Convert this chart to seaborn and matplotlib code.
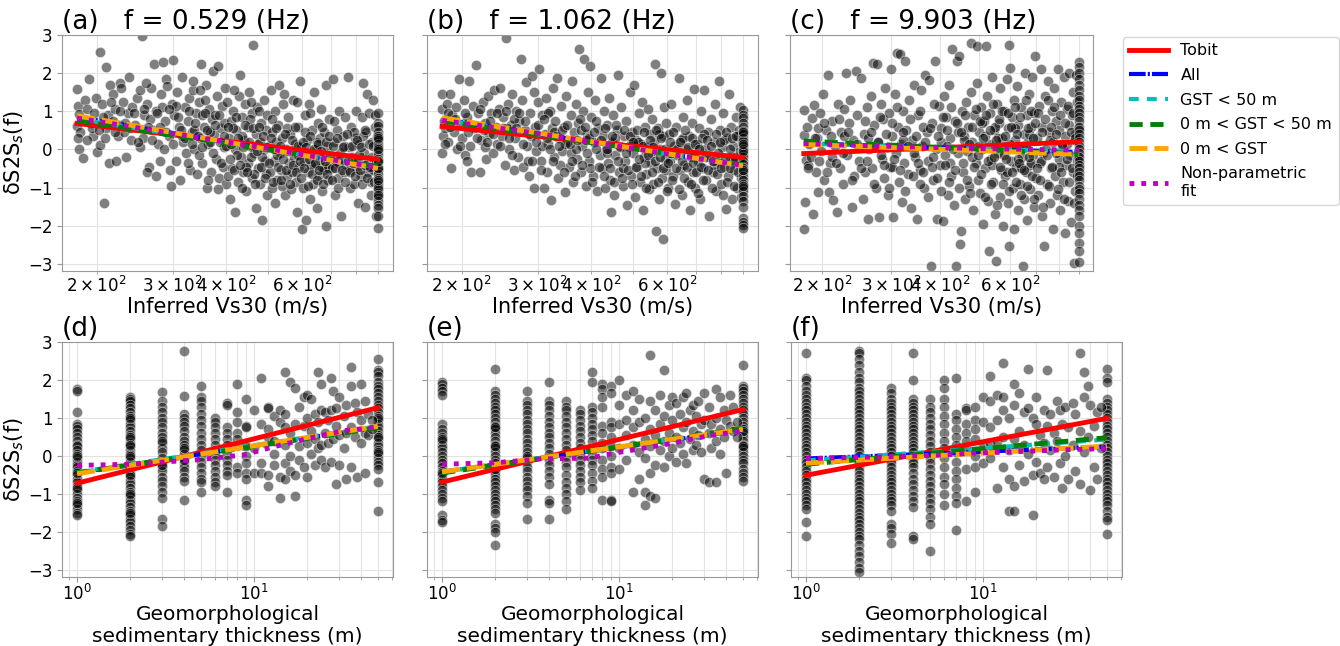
import matplotlib
matplotlib.use("Agg")
import matplotlib.pyplot as plt
import seaborn as sns
import pandas as pd

# ---------------- data ----------------
vs30_ends = [180, 900]
gst_ends = [1, 50]

pts_a = [(180,1.58),(181,1.15),(182,0.92),(180,0.62),(183,0.45),(181,0.3),(182,0.0),(186,-0.22),(188,1.3),(192,1.85),(190,1.05),(194,0.7),(196,0.35),(195,0.55),(199,1.35),
(203,2.55),(210,2.15),(208,-1.4),(200,-0.08),(204,0.12),(206,1.2),(212,0.9),(215,1.7),(218,1.45),(210,0.55),(220,1.05),(224,0.35),(214,-0.35),(222,-0.3),(226,1.75),(230,1.25),(232,0.45),(236,0.95),(238,1.9),(240,0.25),(228,1.6),(218,0.75),(234,-0.2),(242,1.1),(207,0.85),(225,0.65),
(245,0.65),(248,1.35),(252,1.55),(255,2.98),(256,0.3),(258,0.9),(262,1.2),(265,-0.45),(262,-0.6),(268,1.6),(270,0.5),(272,2.25),(275,1.0),(278,0.15),(280,-0.3),(282,1.45),(285,2.3),(288,0.75),(290,1.85),(292,1.65),(295,0.35),(296,-0.55),(298,-0.95),(300,2.35),(252,0.05),(260,1.75),(266,0.8),(284,1.1),(274,-0.7),(287,0.0),(299,1.2),
(303,0.9),(305,-0.3),(308,1.5),(310,0.6),(312,-0.8),(315,1.9),(318,0.2),(320,1.1),(322,-0.1),(325,0.75),(328,1.35),(330,-0.55),(332,0.45),(335,1.55),(337,0.0),(340,0.95),(342,-0.65),(345,1.25),(347,0.3),(350,2.25),(352,-0.35),(355,0.6),(358,1.7),(360,-1.0),(362,0.15),(365,1.05),(368,-0.6),(370,0.8),(372,2.05),(375,0.4),(378,-0.25),(380,1.4),(382,2.2),(385,-0.75),(388,0.55),(390,1.15),(392,-0.45),(395,0.05),(398,1.6),(400,-0.9),(306,1.15),(316,0.35),(326,-0.35),(336,0.5),(346,-0.15),(356,1.3),(366,0.45),(376,0.9),(386,0.2),(396,0.7),(334,1.8),(348,1.55),(363,-0.8),(383,-1.05),(352,0.9),
(402,1.25),(405,0.3),(408,-1.3),(410,0.75),(412,-0.5),(415,1.0),(418,0.0),(420,-1.65),(422,0.5),(425,-0.85),(428,1.4),(430,1.95),(432,-0.2),(435,0.85),(438,-0.6),(440,0.25),(442,1.2),(445,-1.1),(448,0.6),(450,-0.35),(452,1.5),(455,0.1),(458,-0.75),(460,0.95),(462,2.75),(465,-0.1),(468,0.4),(470,-1.55),(472,1.1),(475,-0.5),(478,0.2),(480,-0.9),(482,0.7),(485,-1.85),(488,0.0),(490,1.3),(492,-0.3),(495,0.5),(498,-1.2),(404,-0.7),(414,0.55),(424,-0.15),(434,0.35),(444,-0.45),(454,0.8),(464,-0.65),(474,0.15),(484,-0.2),(494,-0.65),(416,1.55),(436,-1.0),(456,1.25),(476,1.0),(496,0.9),
(502,0.1),(505,-0.6),(508,1.55),(510,-1.0),(512,0.45),(515,-0.3),(518,1.0),(520,-1.4),(522,0.2),(525,-0.8),(528,0.65),(530,1.7),(533,-0.1),(536,-0.55),(540,0.3),(543,1.2),(546,-1.2),(550,0.0),(553,-0.7),(556,0.85),(560,-0.35),(563,0.4),(566,-1.05),(570,1.3),(573,-0.2),(576,0.15),(580,-0.85),(583,-1.65),(586,0.6),(590,-0.45),(593,1.8),(596,0.05),(600,-2.1),(603,-1.0),(606,-0.3),(610,0.9),(613,-1.85),(616,0.25),(620,-0.6),(623,1.2),(626,-1.3),(630,-0.1),(633,0.5),(636,-0.9),(640,1.5),(643,-0.4),(646,0.0),(650,-1.55),(653,0.7),(656,-0.7),(660,0.3),(663,1.05),(666,-1.1),(670,-0.25),(673,0.45),(676,-0.55),(680,1.7),(683,-2.0),(686,0.1),(690,-0.8),(693,0.8),(696,-0.35),(511,0.8),(524,-0.15),(538,-0.95),(552,0.55),(568,-0.6),(588,-0.15),(608,0.45),(628,-0.4),(648,0.2),(668,-0.45),(688,-0.5),(545,1.45),(585,1.25),(625,0.95),
(702,-0.5),(706,1.85),(710,0.2),(714,-1.2),(718,-0.3),(722,0.5),(726,-0.75),(730,1.0),(735,-0.1),(740,-1.75),(745,0.35),(750,-0.6),(755,0.85),(760,-0.4),(765,1.9),(770,0.05),(775,-1.0),(780,0.6),(785,-0.2),(790,-0.9),(795,0.3),(800,1.0),(805,-0.5),(810,-1.4),(815,0.15),(820,-0.7),(825,0.85),(830,1.75),(835,-0.1),(840,-1.5),(845,0.45),(850,1.45),(855,-0.3),(860,0.95),(865,-0.85),(870,0.2),(875,1.3),(880,-0.55),(885,0.6),(890,-1.75),(712,0.75),(732,-0.35),(752,0.1),(772,-0.55),(792,0.45),(812,-0.15),(832,0.35),(852,-0.6),(872,-0.2),(888,0.9)]
core_a = [(185,0.8),(190,0.25),(197,0.95),(202,0.5),(209,0.3),(216,1.25),(221,0.45),(227,1.0),(233,0.7),(239,0.55),(244,0.95),(250,0.2),(257,1.05),(263,0.6),(269,0.25),(276,0.95),(281,0.6),(289,0.45),(294,1.05),(301,0.15),(309,0.85),(314,0.5),(321,0.3),(327,1.0),(333,0.15),(339,0.7),(344,0.35),(351,0.05),(357,0.95),(361,0.5),(367,0.2),(373,-0.1),(377,0.65),(384,0.9),(389,-0.35),(394,0.35),(399,0.1),(403,0.6),(407,-0.25),(411,0.15),(417,-0.55),(421,0.85),(426,0.3),(431,-0.4),(437,0.05),(441,0.65),(446,-0.6),(451,0.2),(457,-0.2),(461,0.55),(466,-0.9),(471,-0.05),(477,0.6),(481,-0.45),(487,0.35),(491,-0.75),(497,0.05),(503,-0.35),(507,0.3),(513,-0.85),(517,0.0),(523,0.55),(527,-0.45),(532,0.1),(537,-0.8),(542,-0.25),(547,0.4),(551,-0.55),(557,-0.05),(562,-0.9),(567,0.25),(572,-0.4),(578,0.6),(582,-0.6),(587,0.1),(592,-0.3),(597,-0.75),(602,0.2),(607,-0.5),(612,0.05),(618,-0.95),(622,-0.25),(627,0.35),(632,-0.65),(638,0.0),(642,-0.35),(648,-0.8),(652,0.15),(658,-0.55),(662,-0.05),(667,0.6),(672,-0.9),(678,-0.3),(682,0.2),(687,-0.65),(692,0.35),(698,-0.15),(704,-0.8),(708,0.1),(716,-0.5),(724,0.3),(728,-1.0),(736,-0.25),(744,-0.55),(748,0.05),(756,-0.85),(762,0.4),(768,-0.3),(776,-0.6),(782,0.1),(788,-0.35),(797,-0.7),(803,0.25),(808,-0.3),(818,-0.55),(822,0.05),(828,-0.9),(838,-0.4),(842,0.5),(848,-0.75),(858,0.15),(862,-0.45),(868,-1.2),(878,0.1),(883,-0.85),(893,-0.3),(896,0.35)]
stack_a = [0.95,0.7,0.62,0.45,0.36,0.24,0.15,0.05,-0.04,-0.16,-0.25,-0.34,-0.46,-0.55,-0.64,-0.76,-0.85,-0.94,-1.06,-1.15,-1.24,-1.36,-1.45,-1.55,-1.76,-2.05,-0.5,-0.3,0.3,-1.0,-0.8,-1.2,0.0]

pts_b = [(180,1.45),(180,1.05),(181,0.35),(180,-0.1),(182,0.75),(183,0.55),(185,1.2),(186,0.2),(188,1.45),(189,-0.5),(190,0.9),(192,0.45),(194,1.1),(195,0.0),(197,1.85),(199,0.65),(200,0.3),(202,1.3),(204,-0.15),(206,0.85),(208,1.8),(209,0.1),(210,-0.6),(212,1.15),(214,0.55),(216,2.22),(218,0.95),(220,-0.6),(222,0.25),(224,1.25),(226,0.7),(228,-0.25),(230,1.4),(232,0.4),(234,0.95),(236,-0.1),(238,1.55),(240,0.6),(242,0.15),(244,1.05),(206,-0.3),(226,0.05),(186,0.95),
(246,1.6),(248,0.35),(250,0.85),(252,-0.4),(254,2.93),(256,1.2),(258,0.0),(260,0.65),(262,1.45),(264,-0.55),(266,0.3),(268,1.0),(270,-0.2),(272,0.75),(274,2.38),(276,1.3),(278,-0.45),(280,0.5),(282,1.77),(284,0.1),(286,-0.7),(288,0.95),(290,0.35),(292,1.92),(294,-1.02),(296,0.6),(298,-0.05),(300,1.25),(255,0.55),(265,0.8),(285,-0.3),(295,1.5),
(303,2.1),(305,-0.3),(307,0.9),(310,-1.0),(312,0.4),(314,1.35),(316,-0.6),(318,0.15),(320,1.0),(322,-1.32),(324,0.55),(326,1.6),(328,-0.2),(330,0.75),(333,1.88),(335,-0.75),(337,0.3),(340,1.15),(342,-0.05),(345,0.6),(348,-1.12),(350,1.4),(352,0.2),(355,-0.45),(358,0.9),(360,1.79),(362,-0.85),(365,0.45),(368,1.2),(370,-0.25),(372,0.7),(375,2.63),(378,-0.6),(380,0.1),(382,1.0),(385,2.36),(388,-0.95),(390,0.4),(392,1.5),(395,-0.3),(398,2.18),(400,0.85),(403,-0.7),(406,0.2),(409,1.3),(412,-1.1),(415,0.55),(418,-0.15),(308,0.1),(318,0.95),(328,0.45),(338,-0.4),(348,0.15),(358,-0.1),(368,0.0),(378,0.5),(388,0.25),(398,-0.5),(410,0.75),
(422,1.88),(424,-0.5),(426,0.35),(428,1.0),(430,-1.0),(432,0.0),(435,0.65),(438,-0.35),(440,1.35),(443,-0.8),(446,0.2),(449,0.9),(452,-1.2),(455,-0.15),(458,0.5),(461,1.96),(464,-0.6),(467,0.1),(470,1.1),(473,-0.95),(476,0.35),(479,-0.3),(482,0.75),(485,-1.45),(488,0.05),(491,1.5),(494,-0.7),(497,0.45),(500,-0.1),(503,1.7),(506,-1.25),(509,0.25),(512,-0.45),(515,0.95),(518,-0.85),(521,0.15),(524,1.25),(527,-1.6),(530,-0.2),(533,0.6),(536,-0.65),(539,0.05),(542,1.05),(545,-1.05),(548,0.4),(551,-0.35),(554,0.8),(557,-0.9),(560,0.2),(563,2.23),(565,-2.13),(568,-0.5),(571,0.55),(574,-1.3),(577,0.0),(580,2.0),(583,-0.75),(586,0.35),(588,-2.36),(591,1.1),(594,-0.25),(597,0.7),(434,-0.1),(454,0.3),(474,-0.5),(494,0.15),(514,0.2),(534,-0.35),(554,-0.1),(574,0.4),(596,-0.55),(445,-1.65),
(602,-1.0),(606,0.4),(610,-0.3),(614,1.2),(618,-0.7),(622,0.1),(626,-1.43),(630,0.6),(634,-0.15),(638,1.86),(642,-0.55),(646,0.25),(650,-1.2),(654,0.85),(658,-0.4),(662,0.0),(666,1.3),(670,-0.85),(674,0.35),(678,-1.59),(682,-0.2),(686,0.7),(690,-0.6),(694,1.59),(698,-1.0),(702,0.15),(706,-0.3),(710,0.55),(715,-1.3),(720,1.0),(725,-0.5),(730,1.55),(735,0.0),(740,-0.8),(745,0.45),(750,-1.74),(755,-0.15),(760,0.8),(765,-0.6),(770,0.2),(775,1.2),(780,-1.1),(785,-0.3),(790,1.79),(795,0.5),(800,-0.9),(805,0.05),(810,0.95),(815,-0.45),(820,-1.56),(825,0.3),(830,-0.7),(835,1.45),(840,-0.2),(845,0.6),(850,-1.3),(855,0.1),(860,-0.55),(865,0.85),(870,-1.0),(875,0.35),(880,-0.25),(885,1.1),(890,-0.75),(612,-0.1),(652,0.3),(692,-0.15),(732,0.4),(772,-0.4),(812,0.25),(852,-0.2),(882,0.5)]
core_b = [(183,0.15),(188,0.6),(193,0.8),(198,0.1),(203,0.95),(207,0.45),(211,0.65),(217,0.3),(221,1.05),(225,0.5),(229,0.2),(233,0.75),(237,0.4),(241,0.95),(245,0.1),(249,0.55),(253,1.0),(257,0.3),(261,-0.15),(267,0.55),(271,0.95),(277,0.15),(281,0.75),(287,0.4),(291,-0.3),(297,0.2),(301,0.65),(306,-0.55),(311,0.8),(315,0.3),(321,0.0),(325,-0.3),(331,0.35),(336,0.1),(341,0.5),(346,-0.6),(351,0.65),(356,0.15),(361,-0.3),(366,-0.7),(371,0.25),(376,0.8),(381,-0.4),(386,0.6),(391,-0.1),(396,0.3),(401,-0.85),(405,0.45),(411,0.0),(416,-0.45),(421,0.25),(427,-0.7),(431,0.55),(436,0.0),(441,-0.5),(447,0.35),(451,-0.85),(456,0.65),(461,-0.3),(466,0.05),(471,-0.75),(477,0.5),(481,-0.1),(486,-0.55),(492,0.35),(496,-0.9),(501,0.2),(507,-0.45),(511,0.5),(516,-0.25),(522,-0.7),(526,0.1),(531,0.45),(537,-1.0),(541,-0.15),(547,0.25),(552,-0.6),(556,0.05),(561,-0.3),(566,0.5),(572,-0.85),(576,-0.2),(581,0.3),(587,-0.5),(592,0.0),(598,-1.1),(604,-0.35),(608,0.2),(616,-0.8),(620,0.45),(628,-0.5),(632,0.0),(640,-1.05),(644,0.2),(648,-0.3),(656,-0.75),(660,0.5),(668,-0.45),(672,0.05),(680,-0.9),(684,0.3),(688,-0.35),(696,0.15),(700,-0.6),(708,-1.15),(712,0.0),(718,-0.45),(722,0.3),(728,-0.8),(738,-0.2),(742,0.25),(748,-0.55),(758,0.1),(762,-1.0),(768,-0.3),(778,0.4),(782,-0.65),(788,-0.1),(798,0.2),(802,-0.5),(808,-1.2),(818,-0.25),(822,0.45),(828,-0.85),(838,0.0),(842,-0.5),(848,0.3),(858,-0.95),(862,-0.2),(868,0.35),(878,-0.6),(884,-0.05),(892,-1.25),(896,0.2)]
stack_b = [1.04,0.9,0.81,0.7,0.6,0.49,0.4,0.3,0.21,0.1,0.0,-0.11,-0.2,-0.3,-0.39,-0.5,-0.6,-0.71,-0.8,-0.9,-1.0,-1.1,-1.21,-1.35,-1.5,-1.8,-1.9,-1.98,-2.05,0.45,-0.05,-0.55,-0.95,0.15]

pts_c = [(180,1.04),(180,0.38),(181,-1.38),(180,-2.09),(182,-0.28),(183,0.6),(184,-0.41),(186,0.15),(188,-0.19),(189,0.82),(190,-1.69),(191,1.17),(193,-0.6),(194,0.3),(196,-1.12),(198,0.95),(199,-0.05),(201,1.44),(203,-0.8),(205,0.5),(207,1.96),(208,-1.12),(210,-0.35),(212,0.75),(214,-1.34),(216,0.1),(218,-1.65),(220,1.2),(222,-0.5),(224,0.45),(226,-0.9),(228,1.05),(230,2.0),(232,-0.15),(234,0.7),(236,1.3),(238,-1.52),(240,0.25),(242,-0.7),(244,2.05),(246,0.9),(248,-0.3),(196,0.55),(212,-0.2),(228,0.35),
(252,1.88),(254,-1.3),(256,0.4),(258,-0.6),(260,1.1),(262,-1.82),(264,0.0),(266,1.39),(268,-0.5),(270,2.27),(272,0.65),(274,-1.0),(276,2.23),(278,0.2),(280,-1.78),(282,1.2),(284,-0.25),(286,0.8),(288,-0.75),(290,1.6),(292,0.05),(294,-1.2),(296,0.95),(298,-0.45),(300,2.1),(302,0.35),(304,-1.78),(306,1.45),(308,-0.1),(310,2.54),(312,0.6),(314,-0.85),(316,2.49),(318,0.15),(320,-1.38),(322,1.0),(324,-0.35),(326,2.32),(328,0.5),(330,-0.65),(333,1.3),(336,-1.55),(339,0.25),(342,1.7),(345,-0.2),(348,-1.82),(351,0.9),(354,-0.55),(357,1.55),(360,0.1),(363,-1.0),(366,1.96),(369,0.45),(372,-0.3),(375,1.83),(378,-3.06),(381,0.7),(384,-0.8),(387,2.32),(390,0.0),(393,-1.82),(396,1.15),(399,-0.4),(402,0.55),(405,-1.87),(408,1.4),(411,-0.15),(414,0.85),(417,-1.2),(420,1.7),(423,0.3),(426,-0.7),(429,2.63),(432,-1.45),(435,0.75),(437,-3.06),(440,2.32),(443,-0.1),(446,2.45),(449,-2.48),(451,-2.13),(262,0.3),(282,-0.15),(302,-0.45),(322,0.25),(342,-0.1),(362,0.6),(382,-0.2),(402,0.2),(422,-0.35),(442,0.45),(355,-0.9),(415,0.1),
(453,1.0),(456,-0.6),(459,0.35),(462,-1.3),(465,1.25),(468,-0.05),(471,0.6),(474,-0.95),(477,1.5),(479,2.8),(482,0.2),(485,-1.6),(488,0.9),(491,-0.35),(494,1.75),(496,2.71),(499,-0.8),(502,0.45),(505,-1.15),(508,1.1),(511,0.0),(514,-1.95),(517,0.75),(520,-0.5),(522,2.71),(525,1.4),(528,-1.35),(530,0.15),(532,-2.66),(535,0.95),(538,-0.25),(541,1.9),(544,-0.85),(547,0.5),(550,-1.7),(553,-2.93),(556,1.2),(559,-0.1),(562,0.7),(565,-1.25),(568,1.6),(571,-0.55),(574,0.3),(577,-2.0),(580,1.0),(583,-0.7),(586,0.1),(589,1.85),(592,-1.4),(595,0.55),(598,2.73),(598,-2.53),(601,2.14),(604,-0.3),(607,0.85),(610,-1.0),(613,1.3),(616,-2.1),(619,0.25),(622,-0.45),(625,1.65),(628,-1.6),(631,0.65),(634,0.0),(637,-0.9),(640,1.1),(643,-0.2),(647,-3.07),(650,0.4),(653,-1.3),(656,2.0),(659,-0.6),(662,0.9),(665,-1.85),(668,0.2),(671,1.45),(674,-0.4),(677,-1.05),(680,0.6),(683,1.9),(686,-0.15),(689,-1.5),(692,0.95),(695,2.45),(698,-0.75),(460,0.25),(480,-0.2),(500,0.1),(520,0.35),(540,-0.4),(560,0.3),(580,-0.15),(600,0.15),(620,0.55),(640,-0.5),(660,0.05),(680,-0.35),(510,0.7),(550,0.6),(590,-0.6),(630,-0.25),(670,0.4),
(702,0.3),(706,-1.2),(710,1.15),(714,-0.35),(718,2.1),(722,0.6),(726,-1.75),(730,-0.1),(734,-2.53),(738,1.4),(742,0.0),(746,-0.9),(750,1.8),(754,0.45),(758,-1.4),(762,-0.5),(766,1.0),(770,-2.1),(774,0.2),(778,1.6),(782,-0.7),(786,0.75),(790,-1.2),(794,2.1),(798,-0.25),(802,0.5),(806,-1.6),(810,1.25),(814,0.1),(818,-0.85),(822,1.9),(826,-2.2),(830,0.35),(834,-0.4),(838,1.05),(842,-1.35),(846,0.65),(850,2.0),(854,-0.15),(858,-1.9),(862,0.9),(866,-0.6),(870,1.5),(872,-2.97),(876,0.25),(880,-1.1),(884,1.95),(888,-0.3),(892,0.55),(720,-0.3),(760,0.25),(800,-0.45),(840,0.15),(880,0.4)]
core_c = [(185,-0.5),(192,0.3),(197,-0.3),(202,0.7),(206,-0.6),(211,0.35),(217,-0.35),(221,0.8),(227,-0.1),(233,0.45),(239,-0.8),(245,0.15),(251,-0.5),(257,0.75),(261,-0.3),(267,0.45),(271,-0.9),(277,0.2),(281,0.85),(287,-0.4),(291,0.4),(297,-1.0),(301,0.7),(305,-0.25),(311,1.1),(315,-0.55),(321,0.45),(325,-1.1),(331,0.1),(335,0.8),(341,-0.7),(346,0.35),(350,-0.35),(356,1.0),(361,-0.6),(365,0.2),(371,-1.25),(376,0.55),(380,-0.45),(386,1.2),(391,-0.75),(395,0.35),(401,-1.1),(406,0.85),(410,-0.4),(416,0.5),(421,-0.85),(425,1.1),(431,0.0),(436,-0.55),(441,0.7),(446,-1.0),(452,0.45),(457,-0.35),(461,0.9),(467,-0.8),(472,0.15),(476,-1.15),(481,0.6),(487,-0.45),(492,1.05),(497,-0.15),(503,0.75),(507,-0.65),(513,0.3),(518,-1.25),(523,0.9),(527,-0.3),(533,0.5),(537,-0.9),(543,1.2),(548,-0.2),(552,0.25),(557,-1.45),(563,0.8),(567,-0.45),(572,1.0),(576,-0.9),(582,0.35),(587,-0.25),(593,0.95),(597,-1.1),(603,0.6),(608,-0.6),(612,0.05),(618,1.1),(623,-0.85),(627,0.4),(633,-0.35),(638,0.85),(642,-1.2),(648,0.1),(652,-0.55),(658,1.3),(663,-0.95),(667,0.55),(673,-0.2),(678,1.0),(682,-0.7),(688,0.3),(693,-1.3),(697,0.7),(704,-0.5),(708,0.95),(716,-0.8),(724,0.45),(728,-1.5),(736,0.8),(744,-0.15),(748,1.3),(756,-0.95),(764,0.6),(768,-0.45),(776,1.1),(784,-0.1),(788,0.4),(796,-1.05),(804,0.9),(808,-0.6),(816,0.15),(824,-1.3),(828,0.7),(836,-0.25),(844,1.15),(848,-0.85),(856,0.45),(864,-0.5),(868,0.95),(874,-1.4),(878,0.3),(886,-0.7),(890,1.25),(896,-0.2)]
stack_c = [2.3,2.15,2.0,1.85,1.7,1.55,1.4,1.3,1.15,1.05,0.95,0.85,0.75,0.6,0.5,0.4,0.3,0.2,0.1,0.0,-0.1,-0.2,-0.3,-0.4,-0.5,-0.6,-0.7,-0.8,-0.95,-1.05,-1.15,-1.3,-1.45,-1.6,-1.75,-2.0,-2.2,-2.45,-2.66,-2.95]

cols_d = {
 1: [1.75,1.72,1.15,0.85,0.8,0.7,0.6,0.5,0.4,0.3,0.25,0.15,0.05,-0.05,-0.15,-0.25,-0.3,-0.4,-0.5,-0.6,-0.7,-0.8,-0.9,-1.0,-1.1,-1.2,-1.3,-1.4,-1.5,-1.57,-0.45,0.0,-0.85,-1.25],
 2: [1.55,1.5,1.45,1.35,1.25,1.15,1.05,0.95,0.85,0.75,0.65,0.55,0.45,0.35,0.25,0.15,0.05,-0.05,-0.15,-0.25,-0.35,-0.45,-0.55,-0.65,-0.75,-0.85,-0.95,-1.05,-1.15,-1.25,-1.35,-1.45,-1.55,-1.65,-1.75,-1.85,-1.95,-2.05,-2.12,0.0,-0.5,-1.0,0.5,1.0,-1.5,-0.3,0.3],
 3: [1.67,1.45,1.3,1.15,1.0,0.9,0.75,0.6,0.5,0.35,0.2,0.1,-0.05,-0.15,-0.3,-0.4,-0.55,-0.65,-0.8,-0.95,-1.1,-1.65,-1.85,0.4,-0.25],
 4: [2.75,1.57,1.1,1.0,0.9,0.8,0.65,0.5,0.4,0.3,0.15,0.05,-0.05,-0.2,-0.3,-0.4,-0.55,-0.65,-1.15,0.2,-0.1],
 5: [1.85,1.55,1.45,1.3,1.1,0.95,0.8,0.6,0.45,0.3,0.15,0.0,-0.15,-0.3,-0.45,-0.6,-0.7,-0.95],
 6: [1.0,0.9,0.75,0.6,0.45,0.3,0.15,0.05,-0.1,-0.25,-0.4,-0.55,-0.7,-0.8],
 7: [1.4,1.35,0.75,0.6,0.45,0.3,0.2,0.05,-0.1,-0.25,-0.4,-0.5,-0.95],
 8: [1.9,1.15,0.9,0.6,0.45,0.3,-0.3,-0.45],
 9: [1.5,0.8,0.75,0.25,0.0,-0.2,-0.45,-0.6,-1.15,-1.3],
 50: [2.55,2.25,2.2,2.1,1.95,1.85,1.75,1.65,1.55,1.45,1.35,1.25,1.15,1.05,0.95,0.85,0.75,0.65,0.55,0.45,0.35,0.25,0.15,0.05,-0.05,-0.15,-0.25,-0.35,-0.7,-1.45,1.0,0.5,0.1],
}
scatter_d = [(10,1.2),(10,0.2),(10,-0.45),(11,2.05),(11,0.85),(11,-0.2),(11,-0.45),(12,1.3),(12,1.25),(12,0.7),(12,0.5),(12,-0.5),(12,-0.8),(13,0.4),(13,0.05),(13,-0.25),(13,1.05),(14,1.2),(14,0.9),(14,-0.55),(14,-1.1),(15,2.2),(15,1.1),(15,0.75),(15,0.3),(15,-0.2),(15,-0.6),(16,1.95),(16,0.6),(16,0.0),(16,-0.4),(17,1.8),(17,0.85),(17,-0.5),(17,-1.05),(18,1.3),(18,0.25),(18,-0.1),(19,1.55),(19,0.8),(19,-0.3),(20,1.6),(20,1.0),(20,0.35),(20,-0.55),(21,1.5),(21,0.65),(21,0.05),(22,1.1),(22,0.45),(22,-0.25),(23,2.2),(23,0.9),(23,0.2),(24,1.9),(24,1.2),(24,0.3),(24,-0.1),(25,1.15),(25,0.6),(25,-0.3),(26,0.95),(26,0.35),(27,2.05),(27,1.2),(27,-0.15),(28,1.7),(28,0.45),(29,1.25),(29,0.8),(29,-0.75),(30,1.55),(30,0.55),(30,-0.25),(32,1.05),(32,0.2),(33,1.35),(33,0.6),(33,-0.6),(35,2.35),(35,1.85),(35,0.75),(35,-0.3),(37,1.4),(37,0.5),(38,1.15),(38,-0.55),(40,1.9),(40,0.95),(40,0.35),(42,1.45),(42,0.6),(42,-0.45),(44,1.1),(44,0.55),(46,0.95),(46,0.7)]

cols_e = {
 1: [1.95,1.9,1.8,1.7,1.6,0.85,0.7,0.6,0.5,0.4,0.3,0.2,0.1,0.0,-0.1,-0.2,-0.3,-0.4,-0.5,-0.6,-0.7,-0.8,-0.9,-1.0,-1.1,-1.2,-1.55,-1.7,-1.75,0.45,-0.45],
 2: [2.3,1.7,1.6,1.5,1.4,1.3,1.2,1.1,1.0,0.9,0.8,0.7,0.6,0.5,0.4,0.3,0.2,0.1,0.0,-0.1,-0.2,-0.3,-0.4,-0.5,-0.6,-0.7,-0.8,-0.9,-1.0,-1.1,-1.2,-1.3,-1.4,-1.5,-1.8,-1.9,-2.0,-2.35,0.25,-0.35,0.75],
 3: [1.7,1.45,1.35,1.2,1.1,0.95,0.85,0.7,0.6,0.45,0.35,0.2,0.1,-0.05,-0.15,-0.3,-0.4,-0.55,-0.65,-0.8,-0.9,-1.05,-1.25,-1.65,0.0],
 4: [1.95,1.45,1.35,1.2,1.05,0.9,0.75,0.6,0.5,0.35,0.2,0.05,-0.1,-0.25,-0.4,-0.55,-0.75,-1.15,-1.25,-1.65],
 5: [1.45,1.3,1.2,1.05,0.9,0.75,0.6,0.45,0.3,0.15,0.0,-0.15,-0.3,-0.5,-0.7,-0.85,-1.0,-1.2,-1.4],
 6: [1.2,1.1,0.95,0.8,0.65,0.5,0.35,0.2,0.05,-0.1,-0.25,-0.4,-0.55,-0.7,-0.9],
 7: [2.2,1.95,1.3,1.15,1.0,0.85,0.7,0.55,0.4,0.2,0.05,-0.1,-0.25,-0.45,-0.65,-0.85],
 8: [1.9,1.75,1.55,1.3,0.8,0.6,0.35,0.2,-0.1,-0.35,-0.55,-1.15],
 9: [1.85,1.65,0.9,0.75,0.5,0.25,0.0,-0.3,-0.45,-1.15,-1.2],
 50: [2.4,1.85,1.8,1.7,1.6,1.5,1.4,1.3,1.2,1.1,1.0,0.9,0.8,0.7,0.6,0.5,0.4,0.3,0.2,0.1,0.0,-0.1,-0.2,-0.35,-0.45,-0.55,-0.65,0.65,0.25],
}
scatter_e = [(10,2.0),(10,1.35),(10,0.85),(10,0.2),(10,-0.35),(11,1.6),(11,0.95),(11,0.55),(11,-0.1),(12,1.7),(12,1.2),(12,0.75),(12,0.3),(12,-0.95),(13,1.5),(13,0.9),(13,0.1),(13,-0.6),(14,1.0),(14,0.45),(14,-0.05),(14,-0.95),(14,-1.3),(15,2.65),(15,1.45),(15,0.7),(15,0.25),(15,-0.45),(15,-1.05),(16,1.2),(16,0.55),(16,-0.25),(16,-1.1),(17,1.6),(17,0.85),(17,0.15),(18,2.25),(18,1.05),(18,0.4),(18,-0.3),(19,1.35),(19,0.6),(19,0.0),(20,1.55),(20,0.95),(20,0.2),(21,1.4),(21,0.5),(21,-0.15),(22,1.1),(22,0.35),(23,1.55),(23,0.75),(23,0.05),(24,1.65),(24,0.9),(24,-0.2),(25,1.2),(25,0.45),(26,1.35),(26,0.65),(26,0.15),(27,1.05),(27,0.3),(28,1.45),(28,0.55),(29,0.85),(29,0.1),(30,1.65),(30,0.95),(30,-0.6),(32,1.3),(32,0.6),(32,-0.7),(33,0.85),(33,0.2),(35,1.75),(35,1.0),(35,0.4),(35,-0.7),(37,1.55),(37,0.7),(37,0.05),(39,1.2),(39,0.5),(40,0.95),(40,-0.45),(42,1.6),(42,0.8),(44,0.65),(44,1.3),(46,0.9),(46,0.5)]

cols_f = {
 1: [2.7,2.05,2.0,1.85,1.7,1.6,1.5,1.4,1.3,1.2,1.1,1.0,0.9,0.8,0.7,0.6,0.5,0.4,0.3,0.2,0.1,0.0,-0.1,-0.2,-0.3,-0.4,-0.5,-0.6,-0.7,-0.8,-0.9,-1.0,-1.1,-1.2,-1.3,-1.4,-1.75,-2.1],
 2: [2.75,2.7,2.55,2.4,2.2,2.05,1.95,1.8,1.7,1.6,1.5,1.4,1.3,1.2,1.1,1.0,0.9,0.8,0.7,0.6,0.5,0.4,0.3,0.2,0.1,0.0,-0.1,-0.2,-0.3,-0.4,-0.5,-0.6,-0.7,-0.8,-0.9,-1.0,-1.1,-1.2,-1.3,-1.4,-1.5,-1.6,-1.7,-1.8,-1.9,-2.0,-2.1,-2.2,-2.35,-2.5,-2.65,-2.8,-2.95,-3.05],
 3: [1.8,1.65,1.5,1.4,1.3,1.2,1.1,1.0,0.9,0.8,0.7,0.6,0.5,0.4,0.3,0.2,0.1,0.0,-0.1,-0.2,-0.3,-0.4,-0.5,-0.6,-0.7,-0.8,-0.9,-1.0,-1.1,-1.2,-1.3,-1.45,-1.8,-1.9,-2.05,-2.3],
 4: [2.7,2.0,1.5,1.4,1.3,1.2,1.1,1.0,0.9,0.8,0.7,0.6,0.5,0.4,0.3,0.2,0.1,0.0,-0.1,-0.2,-0.3,-0.45,-0.6,-0.75,-0.9,-1.05,-1.2,-1.35,-2.1,-2.2],
 5: [1.5,1.3,1.15,1.0,0.85,0.7,0.55,0.4,0.25,0.1,-0.05,-0.2,-0.35,-0.5,-0.65,-0.8,-0.95,-1.1,-1.25,-1.4,-1.6,-1.8,-2.5],
 6: [2.0,1.8,1.5,1.3,1.05,0.85,0.6,0.4,0.2,-0.05,-0.3,-0.55,-0.75,-1.0,-1.3],
 7: [2.05,1.1,0.95,0.7,0.5,0.3,0.1,-0.15,-0.4,-0.6,-0.85,-1.05,-1.25,-1.95],
 8: [1.25,1.2,0.85,0.6,0.4,0.15,-0.35,-1.2],
 9: [1.3,0.95,0.7,0.45,0.0,-0.3,-0.95],
 50: [2.3,2.05,1.95,1.5,1.4,1.3,1.2,1.1,1.0,0.9,0.8,0.7,0.6,0.5,0.4,0.3,0.2,0.1,0.0,-0.1,-0.2,-0.3,-0.4,-0.5,-0.6,-0.7,-0.8,-0.9,-1.0,-1.1,-1.2,-1.3,-1.45,-1.6,-1.7,-2.05],
}
scatter_f = [(10,1.55),(10,0.9),(10,0.25),(10,-0.2),(11,2.1),(11,1.45),(11,0.75),(11,0.35),(11,-0.05),(12,1.6),(12,0.95),(12,0.4),(12,-0.85),(13,2.45),(13,1.55),(13,1.2),(13,0.5),(13,-0.3),(14,1.0),(14,0.15),(14,-0.6),(14,-1.45),(15,1.9),(15,1.35),(15,0.45),(15,-0.8),(15,-1.45),(16,1.65),(16,0.65),(16,-0.25),(17,1.15),(17,0.3),(17,-0.65),(18,2.3),(18,1.25),(18,0.05),(19,1.0),(19,-0.5),(19,-1.55),(20,1.55),(20,0.85),(20,-0.15),(21,0.55),(21,-0.45),(22,1.2),(22,0.35),(22,-0.6),(23,2.25),(23,0.8),(23,-0.3),(24,1.1),(24,0.15),(25,0.6),(25,-0.55),(26,1.45),(26,0.4),(27,1.2),(27,-0.2),(28,0.85),(28,-0.85),(29,1.3),(29,0.0),(30,0.75),(30,-0.6),(32,1.4),(32,0.3),(33,1.1),(33,-0.4),(35,2.7),(35,0.65),(35,-0.75),(37,2.2),(37,1.55),(37,0.1),(39,1.85),(39,0.5),(40,1.35),(40,-0.9),(42,0.8),(42,-0.3),(44,1.15),(44,-0.6),(46,1.3),(46,0.2)]

# fitted lines: values at the two x ends
fits_top = {
 'a': {'Tobit': [0.68, -0.26], 'All': [0.85, -0.48], 'GST < 50 m': [0.80, -0.47],
       '0 m < GST < 50 m': [0.75, -0.45], '0 m < GST': [0.88, -0.50]},
 'b': {'Tobit': [0.60, -0.21], 'All': [0.80, -0.42], 'GST < 50 m': [0.78, -0.42],
       '0 m < GST < 50 m': [0.75, -0.40], '0 m < GST': [0.83, -0.43]},
 'c': {'Tobit': [-0.11, 0.20], 'All': [0.16, -0.07], 'GST < 50 m': [0.15, -0.05],
       '0 m < GST < 50 m': [0.22, -0.12], '0 m < GST': [0.13, -0.13]},
}
np_top_x = [180, 300, 500, 900]
np_top = {'a': [0.82, 0.42, 0.02, -0.48], 'b': [0.76, 0.42, 0.02, -0.42], 'c': [0.15, 0.08, 0.02, -0.02]}

fits_bot = {
 'd': {'Tobit': [-0.72, 1.27], 'All': [-0.45, 0.76], 'GST < 50 m': [-0.43, 0.78],
       '0 m < GST < 50 m': [-0.45, 0.74], '0 m < GST': [-0.47, 0.78]},
 'e': {'Tobit': [-0.69, 1.22], 'All': [-0.42, 0.68], 'GST < 50 m': [-0.42, 0.70],
       '0 m < GST < 50 m': [-0.45, 0.72], '0 m < GST': [-0.42, 0.70]},
 'f': {'Tobit': [-0.51, 0.99], 'All': [-0.07, 0.24], 'GST < 50 m': [-0.12, 0.43],
       '0 m < GST < 50 m': [-0.22, 0.48], '0 m < GST': [-0.19, 0.26]},
}
np_bot_x = [1, 2, 3.6, 4.8, 6.8, 8.8, 12.9, 19.8, 25.5, 33, 50]
np_bot = {
 'd': [-0.25, -0.22, -0.14, -0.10, -0.03, 0.03, 0.24, 0.45, 0.57, 0.67, 0.76],
 'e': [-0.22, -0.18, -0.08, -0.07, -0.06, 0.05, 0.18, 0.33, 0.44, 0.54, 0.66],
 'f': [-0.07, -0.04, -0.01, 0.01, 0.04, 0.07, 0.10, 0.13, 0.15, 0.17, 0.19],
}

titles = {'a': '(a)   f = 0.529 (Hz)', 'b': '(b)   f = 1.062 (Hz)', 'c': '(c)   f = 9.903 (Hz)',
          'd': '(d)', 'e': '(e)', 'f': '(f)'}

# ---------------- styling ----------------
plt.rcParams['lines.scale_dashes'] = False
plt.rcParams['font.family'] = ['DejaVu Sans']
styles = {
 'Tobit': dict(color='red', lw=3.5, linestyle='-'),
 'All': dict(color='blue', lw=3.0, linestyle=(0, (12, 1.5, 1.5, 1.5))),
 'GST < 50 m': dict(color='c', lw=3.0, linestyle=(0, (7, 6))),
 '0 m < GST < 50 m': dict(color='green', lw=3.5, linestyle=(0, (9.5, 5.5))),
 '0 m < GST': dict(color='orange', lw=3.5, linestyle=(0, (13, 5))),
 'Non-parametric\nfit': dict(color='m', lw=3.5, linestyle=(0, (3.5, 5))),
}

W, H = 1340, 646
fig = plt.figure(figsize=(13.4, 6.46), dpi=100)

def rect(l, t, r, b):
    return [l / W, 1 - b / H, (r - l) / W, (b - t) / H]

axes = {
 'a': fig.add_axes(rect(62, 35, 393, 271)),
 'b': fig.add_axes(rect(427, 35, 758, 271)),
 'c': fig.add_axes(rect(790, 35, 1093, 271)),
 'd': fig.add_axes(rect(62, 342, 393, 577)),
 'e': fig.add_axes(rect(427, 342, 758, 577)),
 'f': fig.add_axes(rect(791, 342, 1122, 577)),
}

def top_df(pts, core, stack):
    allp = pts + core
    xs = [p[0] for p in allp] + [900] * len(stack)
    ys = [p[1] for p in allp] + list(stack)
    return pd.DataFrame({'x': xs, 'y': ys})

def bot_df(cols, scat):
    xs, ys = [], []
    for k, v in cols.items():
        xs += [k] * len(v)
        ys += list(v)
    xs += [p[0] for p in scat]
    ys += [p[1] for p in scat]
    return pd.DataFrame({'x': xs, 'y': ys})

data = {
 'a': top_df(pts_a, core_a, stack_a), 'b': top_df(pts_b, core_b, stack_b), 'c': top_df(pts_c, core_c, stack_c),
 'd': bot_df(cols_d, scatter_d), 'e': bot_df(cols_e, scatter_e), 'f': bot_df(cols_f, scatter_f),
}

for key, ax in axes.items():
    ax.set_xscale('log')
    df = data[key]
    sns.scatterplot(data=df, x='x', y='y', ax=ax, color='black', alpha=0.5, s=55,
                    edgecolor='white', linewidth=0.6, legend=False, zorder=2)
    if key in 'abc':
        fx, fits, npx, npy = vs30_ends, fits_top[key], np_top_x, np_top[key]
    else:
        fx, fits, npx, npy = gst_ends, fits_bot[key], np_bot_x, np_bot[key]
    for name, yv in fits.items():
        sns.lineplot(x=fx, y=yv, ax=ax, label=name, legend=False, zorder=3, **styles[name])
    sns.lineplot(x=npx, y=npy, ax=ax, label='Non-parametric\nfit', legend=False, zorder=3,
                 **styles['Non-parametric\nfit'])
    ax.set_ylim(-3.19, 3.0)
    ax.set_yticks([-3, -2, -1, 0, 1, 2, 3])
    ax.grid(True, which='both', color='#e3e3e3', lw=0.8, zorder=0)
    ax.set_axisbelow(True)
    for sp in ax.spines.values():
        sp.set_color('#999999')
    ax.tick_params(which='both', colors='#999999', labelcolor='black', labelsize=12)
    ax.tick_params(axis='x', which='both', pad=1.5)
    ax.set_title(titles[key], loc='left', fontsize=19, pad=3)
    if key in 'abc':
        ax.set_xlabel('Inferred Vs30 (m/s)', fontsize=15, labelpad=1)
    else:
        ax.set_xlabel('Geomorphological\nsedimentary thickness (m)', fontsize=14.5,
                      labelpad=1, linespacing=1.15)
    if key in 'ad':
        ax.set_ylabel('δS2S$_s$(f)', fontsize=15, labelpad=1)
    else:
        ax.set_ylabel('')
        ax.tick_params(axis='y', labelleft=False)

handles, labels = axes['c'].get_legend_handles_labels()
fig.legend(handles, labels, loc='upper left', bbox_to_anchor=(1123 / W, 1 - 37 / H),
           fontsize=11.5, handlelength=2.4, labelspacing=0.6, frameon=True, borderaxespad=0)

fig.savefig('out.png', dpi=100)
